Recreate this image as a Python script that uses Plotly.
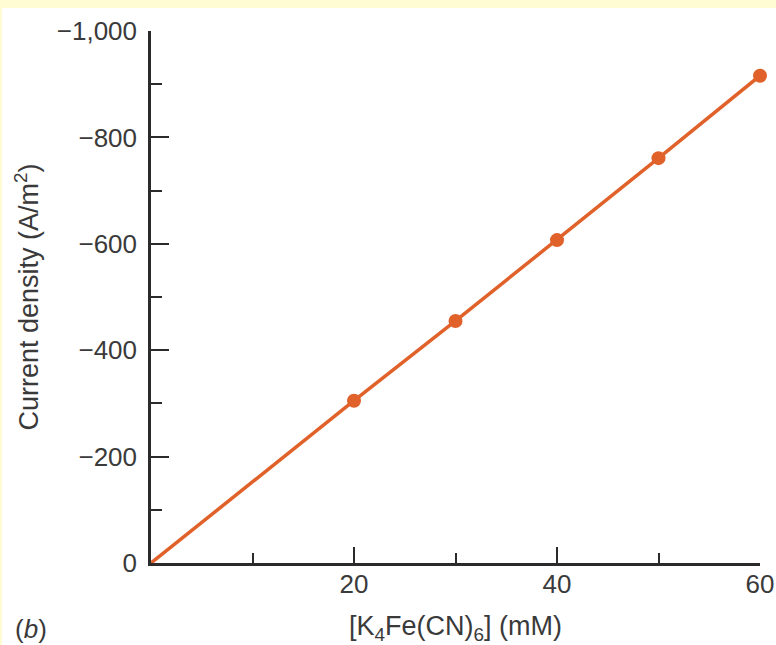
import plotly.graph_objects as go

conc = [20, 30, 40, 50, 60]
current = [-305, -455, -607, -761, -916]
line_x = [0] + conc
line_y = [0] + current

x_major = [20, 40, 60]
x_minor = [10, 30, 50]
y_major = [0, -200, -400, -600, -800, -1000]
y_major_text = ["0", "\u2212200", "\u2212400", "\u2212600", "\u2212800", "\u22121,000"]
y_minor = [-100, -300, -500, -700, -900]

orange = "#e0622a"
axis_col = "#2b2b2b"
txt_col = "#3a3a3a"
font = "Liberation Sans, Arial, sans-serif"
fs = 26
fst = 27

fig = go.Figure()
fig.add_trace(go.Scatter(x=line_x, y=line_y, mode="lines",
                         line=dict(color=orange, width=3.5), cliponaxis=False,
                         showlegend=False, hoverinfo="skip"))
fig.add_trace(go.Scatter(x=conc, y=current, mode="markers",
                         marker=dict(color=orange, size=14), cliponaxis=False,
                         showlegend=False))

W, H = 776, 645
L, R, T, B = 151, 16, 31, 81.5
pw, ph = W - L - R, H - T - B

fig.update_layout(
    width=W, height=H,
    margin=dict(l=L, r=R, t=T, b=B, autoexpand=False),
    paper_bgcolor="#fffbd2",
    plot_bgcolor="rgba(0,0,0,0)",
    font=dict(family=font, size=fs, color=txt_col),
    xaxis=dict(range=[0, 60], showgrid=False, zeroline=False, automargin=False,
               showline=True, linecolor=axis_col, linewidth=2.5,
               tickmode="array", tickvals=x_major, ticktext=[str(v) for v in x_major],
               ticks="inside", ticklen=16, tickwidth=2, tickcolor=axis_col,
               minor=dict(tickmode="array", tickvals=x_minor, ticks="inside",
                          ticklen=10, tickwidth=2, tickcolor=axis_col, showgrid=False),
               tickfont=dict(size=fs, color=txt_col), ticklabelstandoff=-4,
               title=dict(text="[K<sub>4</sub>Fe(CN)<sub>6</sub>] (mM)", standoff=20,
                          font=dict(size=fst, color=txt_col))),
    yaxis=dict(range=[0, -1000], showgrid=False, zeroline=False, automargin=False,
               showline=True, linecolor=axis_col, linewidth=2.5,
               tickmode="array", tickvals=y_major, ticktext=y_major_text,
               ticks="inside", ticklen=18, tickwidth=2, tickcolor=axis_col,
               minor=dict(tickmode="array", tickvals=y_minor, ticks="inside",
                          ticklen=11, tickwidth=2, tickcolor=axis_col, showgrid=False),
               tickfont=dict(size=fs, color=txt_col), ticklabelstandoff=6,
               title=dict(text="Current density (A/m<sup>2</sup>)", standoff=11,
                          font=dict(size=fst, color=txt_col))),
    shapes=[dict(type="rect", xref="paper", yref="paper", layer="below",
                 x0=(2 - L) / pw, x1=(W + 20 - L) / pw,
                 y0=(-B - 20) / ph, y1=(H - 8 - B) / ph,
                 fillcolor="white", line=dict(width=0))],
    annotations=[dict(text="(<i>b</i>)", xref="paper", yref="paper",
                      x=(13 - L) / pw, y=-66.5 / ph,
                      xanchor="left", yanchor="middle", showarrow=False,
                      font=dict(size=fs, color=txt_col))],
)

fig.write_html("out.html", config={"displayModeBar": False, "responsive": False},
               post_script="document.body.style.margin='0';"
                           "document.body.style.overflow='hidden';"
                           "document.documentElement.style.overflow='hidden';")
